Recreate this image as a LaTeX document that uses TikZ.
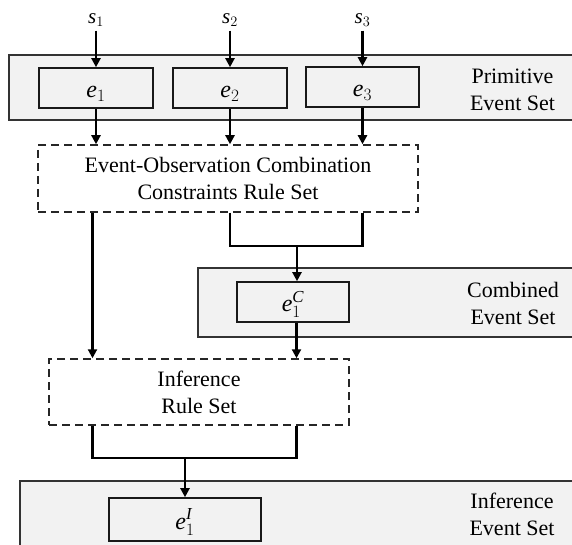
\documentclass[tikz,border=0pt]{standalone}
\usepackage{fontspec}
\setmainfont{Liberation Serif}
\usetikzlibrary{arrows.meta,calc}
\newcommand\evsub[2]{$\mathit{#1}_{#2}$}
\newcommand\evsubsup[3]{$\mathit{#1}_{#2}^{\mathit{#3}}$}
\begin{document}
\begin{tikzpicture}[x=1pt,y=-1pt,
  band/.style={draw=black!80,line width=1.8pt,fill=black!5,inner sep=0pt},
  ebox/.style={draw=black!90,line width=1.6pt,fill=black!5,inner sep=0pt,
    text height=20pt,text depth=1pt,font=\fontsize{24}{28}\selectfont},
  rulebox/.style={draw=black!85,line width=1.5pt,dash pattern=on 8pt off 5pt,
    fill=white,inner sep=0pt,align=center,font=\fontsize{22}{27}\selectfont},
  lbl/.style={align=center,font=\fontsize{22}{27}\selectfont,inner sep=0pt},
  src/.style={font=\fontsize{21}{25}\selectfont,inner sep=4pt,anchor=base},
  arr/.style={line width=2.2pt,-{Triangle[length=9pt,width=9pt]}},
  ln/.style={line width=2.2pt},
]
\useasboundingbox (0,0) rectangle (572,545);
\clip (0,0) rectangle (572,545);

% bands
\node[band,minimum width=582pt,minimum height=65pt] (pband) at (300,87.5) {};
\node[band,minimum width=404pt,minimum height=69pt] (cband) at (400,302.5) {};
\node[band,minimum width=580pt,minimum height=99pt] (iband) at (310,530.5) {};
\node[lbl] (plabel) at (512.5,89.5) {Primitive\\Event Set};
\node[lbl] (clabel) at (513,303) {Combined\\Event Set};
\node[lbl] (ilabel) at (512,514) {Inference\\Event Set};

% sources
\node[src] (s1) at (96,23.3) {\evsub{s}{1}};
\node[src] (s2) at (230,23.3) {\evsub{s}{2}};
\node[src] (s3) at (362.5,23.3) {\evsub{s}{3}};

% event boxes
\node[ebox,minimum width=114pt,minimum height=40pt] (e1) at (96,88) {\evsub{e}{1}};
\node[ebox,minimum width=114pt,minimum height=40pt] (e2) at (230,88) {\evsub{e}{2}};
\node[ebox,minimum width=113pt,minimum height=40pt] (e3) at (362.5,87) {\evsub{e}{3}};
\node[ebox,minimum width=112pt,minimum height=40pt] (ec) at (293,302) {\evsubsup{e}{1}{C}};
\node[ebox,minimum width=152pt,minimum height=43pt] (ei) at (185,519.5) {\evsubsup{e}{1}{I}};

% rule sets
\node[rulebox,minimum width=380pt,minimum height=67pt] (d1) at (228,178.5)
  {Event-Observation Combination\\Constraints Rule Set};
\node[rulebox,minimum width=300pt,minimum height=66pt] (d2) at (199,392)
  {Inference\\Rule Set};

% columns and joins
\coordinate (colA) at (92.5,0);
\coordinate (colB) at (296.5,0);
\coordinate (j1) at (297,246);
\coordinate (j2) at (185,458);

% connectors
\foreach \i in {1,2,3}{
  \draw[arr] (s\i.south) -- (s\i.south |- e\i.north);
  \draw[arr] (e\i.south) -- (e\i.south |- d1.north);
}
\draw[arr] (colA |- d1.south) -- (colA |- d2.north);
\draw[ln] (e2.south |- d1.south) |- (j1) -| (e3.south |- d1.south);
\draw[arr] (j1) -- (j1 |- ec.north);
\draw[arr] (colB |- ec.south) -- (colB |- d2.north);
\draw[ln] (colA |- d2.south) |- (j2) -| (colB |- d2.south);
\draw[arr] (j2) -- (ei.north);
\end{tikzpicture}
\end{document}
